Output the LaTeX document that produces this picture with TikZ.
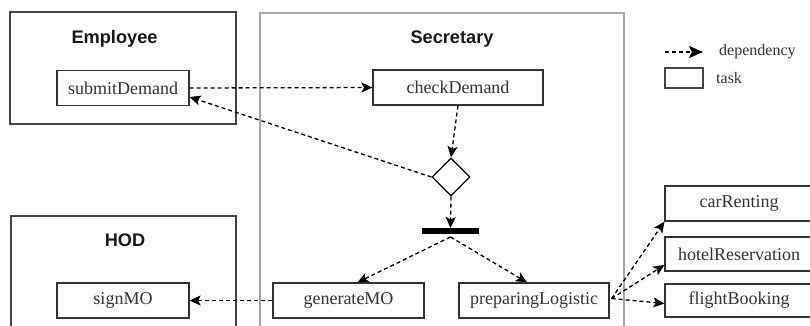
\documentclass[tikz,border=0pt]{standalone}
\usepackage{fontspec}
\setmainfont{Liberation Serif}
\newfontfamily\titlefont{Liberation Sans}
\usetikzlibrary{arrows.meta,shapes.geometric,calc}
\definecolor{lanegray}{HTML}{A8A8A8}
\definecolor{boxgray}{HTML}{444444}
\definecolor{txtgray}{HTML}{333333}
\tikzset{
  lane/.style={draw=#1, line width=1.5pt, rectangle, inner sep=0pt},
  lanetitle/.style={font=\titlefont\bfseries\fontsize{18.2}{20}\selectfont, text=black!90, inner sep=0pt},
  task/.style={draw=txtgray, line width=1.2pt, rectangle, inner sep=0pt, minimum height=35pt,
    font=\fontsize{18}{20}\selectfont, text=txtgray},
  dep/.style={line width=1.3pt, dash pattern=on 4pt off 3pt,
    -{Stealth[length=11pt,width=10pt,inset=2.5pt]}},
  legtext/.style={font=\fontsize{16}{18}\selectfont, text=txtgray, inner sep=0pt, anchor=west}
}
\begin{document}
\begin{tikzpicture}[x=1pt,y=-1pt]
\clip (0,0) rectangle (810,325);
\fill[white] (0,0) rectangle (810,325);
% lanes
\node[lane=boxgray, minimum width=226pt, minimum height=112pt] (emp) at (123,68) {};
\node[lane=lanegray, minimum width=364pt, minimum height=340pt, line width=2pt] (sec) at (442,183) {};
\node[lane=boxgray, minimum width=225pt, minimum height=130pt] (hod) at (123.5,281) {};
\node[lanetitle] (empt) at (114.5,39) {Employee};
\node[lanetitle] (sect) at (452,39) {Secretary};
\node[lanetitle] (hodt) at (125,240) {HOD};
% tasks
\node[task, minimum width=132pt] (submit) at (123,88) {submitDemand};
\node[task, minimum width=170pt] (check) at (458,87.5) {checkDemand};
\node[draw=black, line width=1.3pt, diamond, aspect=1, minimum size=38pt, inner sep=0pt] (dec) at (451,177) {};
\node[fill=black, rectangle, minimum width=57pt, minimum height=5.5pt, inner sep=0pt] (bar) at (450.5,231) {};
\node[task, minimum width=132pt] (sign) at (123,300.5) {signMO};
\node[task, minimum width=151pt] (gen) at (348.5,300.5) {generateMO};
\node[task, minimum width=150pt] (prep) at (534,300.5) {preparingLogistic};
\node[task, minimum width=148pt] (car) at (739,203.5) {carRenting};
\node[task, minimum width=148pt, minimum height=34pt] (hotel) at (739,254) {hotelReservation};
\node[task, minimum width=148pt, minimum height=33pt] (flight) at (739,300.5) {flightBooking};
% connectors
\draw[dep] (submit.east) -- (check.west);
\draw[dep] (dec.west) -- ([yshift=-9pt]submit.east);
\draw[dep] (check.south) -- (dec.north);
\draw[dep] (dec.south) -- (bar.north);
\draw[dep] ([yshift=-3pt]bar.south) -- ([xshift=9pt]gen.north);
\draw[dep] ([yshift=-3pt]bar.south) -- ([xshift=-7pt]prep.north);
\draw[dep] (gen.west) -- (sign.east);
\coordinate (pe) at ([xshift=2pt,yshift=2pt]prep.east);
\draw[dep] (pe) -- (car.south west);
\draw[dep] (pe) -- ([yshift=-11pt]hotel.west);
\draw[dep] (pe) -- ([yshift=-3pt]flight.west);
% legend
\coordinate (la) at (665,52);
\coordinate (lb) at (703,52);
\draw[line width=1.3pt, dash pattern=on 4pt off 3pt, -{Stealth[length=14pt,width=12pt,inset=3pt]}] (la) -- (lb);
\node[legtext] (ldep) at (719,52) {dependency};
\node[draw=boxgray, line width=1.2pt, rectangle, minimum width=38pt, minimum height=20pt, inner sep=0pt] (ltask) at (684,78) {};
\node[legtext] (ltaskt) at (716,78) {task};
\end{tikzpicture}
\end{document}
